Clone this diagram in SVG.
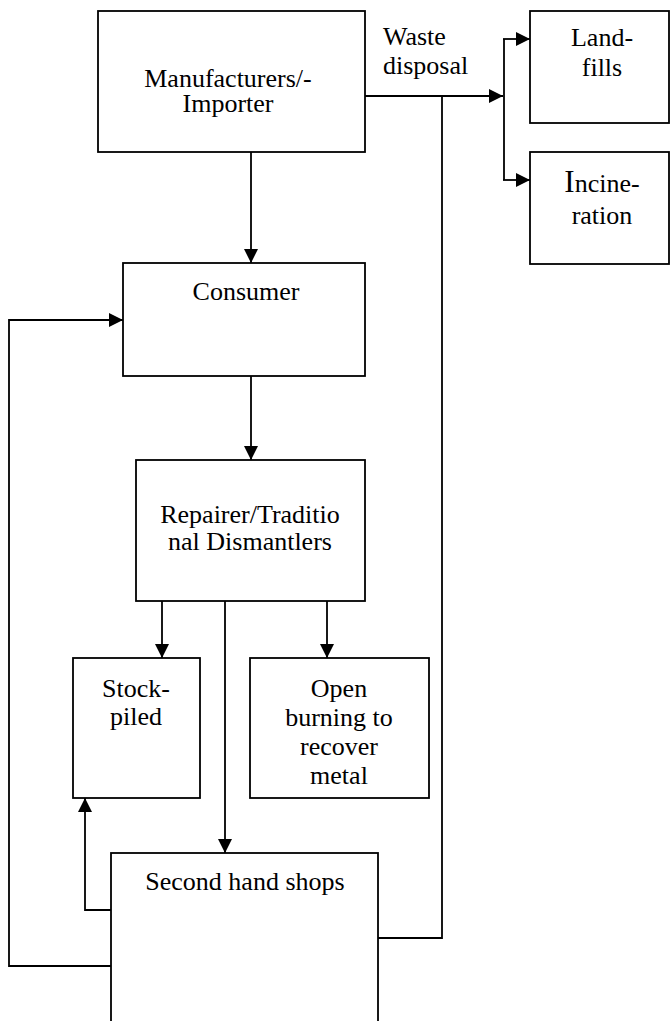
<svg xmlns="http://www.w3.org/2000/svg" width="670" height="1021" viewBox="0 0 670 1021">
<style>
.box{fill:#fff;stroke:#000;stroke-width:1.8}
.t{font-family:"Liberation Serif","Times New Roman",serif;font-size:26px;fill:#000;text-anchor:middle}
.tl{font-family:"Liberation Serif","Times New Roman",serif;font-size:26px;fill:#000}
.c{fill:none;stroke:#000;stroke-width:1.8}
</style>
<defs>
<marker id="ah" markerUnits="userSpaceOnUse" markerWidth="15" markerHeight="15" refX="14" refY="7" orient="auto">
<path d="M0,0 L14,7 L0,14 z" fill="#000"/>
</marker>
</defs>
<rect width="670" height="1021" fill="#fff"/>
<g id="connectors">
<path class="c" d="M251,152 V263" marker-end="url(#ah)"/>
<path class="c" d="M251,376 V460" marker-end="url(#ah)"/>
<path class="c" d="M162,601 V658" marker-end="url(#ah)"/>
<path class="c" d="M327,601 V658" marker-end="url(#ah)"/>
<path class="c" d="M225,601 V853" marker-end="url(#ah)"/>
<path class="c" d="M111,910 H85 V798" marker-end="url(#ah)"/>
<path class="c" d="M111,966 H9 V320 H123" marker-end="url(#ah)"/>
<path class="c" d="M378,938 H442 V96"/>
<path class="c" d="M365,96 H503" marker-end="url(#ah)"/>
<path class="c" d="M504,39 V180"/>
<path class="c" d="M503,39 H530" marker-end="url(#ah)"/>
<path class="c" d="M503,180 H530" marker-end="url(#ah)"/>
<text class="tl" x="383" y="45">Waste</text>
<text class="tl" x="383" y="74">disposal</text>
</g>
<g id="manufacturers">
<rect class="box" x="98" y="11" width="267" height="141"/>
<text class="t" x="228" y="87" font-size="25">Manufacturers/-</text>
<text class="t" x="228" y="112" font-size="25">Importer</text>
</g>
<g id="landfills">
<rect class="box" x="530" y="11" width="139" height="112"/>
<text class="t" x="602" y="46">Land-</text>
<text class="t" x="602" y="76">fills</text>
</g>
<g id="incineration">
<rect class="box" x="530" y="152" width="139" height="112"/>
<text class="t" x="602" y="192"><tspan font-size="31">I</tspan>ncine-</text>
<text class="t" x="602" y="224">ration</text>
</g>
<g id="consumer">
<rect class="box" x="123" y="263" width="242" height="113"/>
<text class="t" x="246" y="300">Consumer</text>
</g>
<g id="repairer">
<rect class="box" x="136" y="460" width="229" height="141"/>
<text class="t" x="250" y="523">Repairer/Traditio</text>
<text class="t" x="250" y="550">nal Dismantlers</text>
</g>
<g id="stockpiled">
<rect class="box" x="73" y="658" width="127" height="140"/>
<text class="t" x="136" y="697">Stock-</text>
<text class="t" x="136" y="725">piled</text>
</g>
<g id="openburning">
<rect class="box" x="250" y="658" width="179" height="140"/>
<text class="t" x="339" y="697">Open</text>
<text class="t" x="339" y="726">burning to</text>
<text class="t" x="339" y="755">recover</text>
<text class="t" x="339" y="784">metal</text>
</g>
<g id="secondhand">
<rect class="box" x="111" y="853" width="267" height="190"/>
<text class="t" x="245" y="890">Second hand shops</text>
</g>
</svg>
